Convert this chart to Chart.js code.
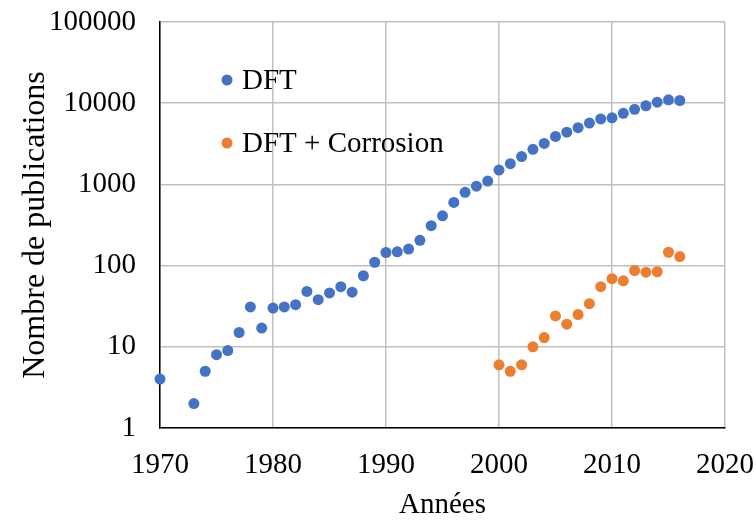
<!DOCTYPE html>
<html>
<head>
<meta charset="utf-8">
<script src="https://cdn.jsdelivr.net/npm/chart.js@4/dist/chart.umd.min.js"></script>
<style>
  body { margin: 0; background: #fff; }
  #wrap { width: 756px; height: 520px; }
</style>
</head>
<body>
<div id="wrap"><canvas id="myChart" width="756" height="520"></canvas></div>
<script>
// years and publication counts
var dftYears = [1970, 1973, 1974, 1975, 1976, 1977, 1978, 1979, 1980, 1981, 1982, 1983, 1984, 1985,
  1986, 1987, 1988, 1989, 1990, 1991, 1992, 1993, 1994, 1995, 1996, 1997, 1998, 1999, 2000,
  2001, 2002, 2003, 2004, 2005, 2006, 2007, 2008, 2009, 2010, 2011, 2012, 2013, 2014, 2015, 2016];
var dftCounts = [4, 2, 5, 8, 9, 15, 31, 17, 30, 31, 33, 48, 38, 46,
  55, 47, 75, 110, 145, 148, 160, 205, 310, 410, 600, 800, 950, 1100, 1500,
  1800, 2200, 2700, 3200, 3900, 4400, 5000, 5700, 6400, 6600, 7500, 8400, 9300, 10300, 11000, 10800];

var corrYears = [2000, 2001, 2002, 2003, 2004, 2005, 2006, 2007, 2008, 2009, 2010, 2011, 2012, 2013, 2014, 2015, 2016];
var corrCounts = [6, 5, 6, 10, 13, 24, 19, 25, 34, 55, 69, 65, 87, 83, 84, 146, 129];

var seriesNames = ['DFT', 'DFT + Corrosion'];
var seriesColors = ['#4472C4', '#ED7D31'];
var yTicks = [1, 10, 100, 1000, 10000, 100000];
var xMin = 1970, xMax = 2020, xStep = 10;

function toPoints(xs, ys) {
  var pts = [];
  for (var i = 0; i < xs.length; i++) pts.push({ x: xs[i], y: ys[i] });
  return pts;
}

var serif = "'Liberation Serif', 'Times New Roman', serif";

// legend drawn inside the plot area, like the original
var innerLegend = {
  id: 'innerLegend',
  afterDatasetsDraw: function(chart) {
    var ctx = chart.ctx;
    var area = chart.chartArea;
    ctx.save();
    ctx.font = '29px ' + serif;
    ctx.textBaseline = 'middle';
    for (var i = 0; i < seriesNames.length; i++) {
      var cx = area.left + 67;
      var cy = area.top + 58 + i * 63;
      ctx.fillStyle = seriesColors[i];
      ctx.beginPath();
      ctx.arc(cx, cy, 5.5, 0, Math.PI * 2);
      ctx.fill();
      ctx.fillStyle = '#000';
      ctx.fillText(seriesNames[i], cx + 15, cy + 1);
    }
    ctx.restore();
  }
};

window.onload = function() {
  var ctx = document.getElementById('myChart').getContext('2d');
  var chart = new Chart(ctx, {
    type: 'scatter',
    data: {
      datasets: [{
        label: seriesNames[0],
        data: toPoints(dftYears, dftCounts),
        backgroundColor: seriesColors[0],
        pointRadius: 5.5,
        pointBorderWidth: 0,
        clip: false
      }, {
        label: seriesNames[1],
        data: toPoints(corrYears, corrCounts),
        backgroundColor: seriesColors[1],
        pointRadius: 5.5,
        pointBorderWidth: 0,
        clip: false
      }]
    },
    options: {
      responsive: false,
      animation: false,
      layout: { padding: { top: 22, right: 31, bottom: 0, left: 0 } },
      plugins: {
        legend: { display: false },
        tooltip: { enabled: false }
      },
      scales: {
        x: {
          type: 'linear',
          min: xMin,
          max: xMax,
          afterFit: function(scale) {
            scale.height = 92;
            scale.paddingLeft = 0;
            scale.paddingRight = 0;
          },
          ticks: {
            stepSize: xStep,
            color: '#000',
            padding: 20,
            maxRotation: 0,
            font: { family: serif, size: 29 },
            callback: function(v) { return String(v); }
          },
          grid: { color: '#bfbfbf', lineWidth: 1.5, drawTicks: false },
          border: { color: '#000', width: 1.5 },
          title: {
            display: true,
            text: 'Années',
            color: '#000',
            font: { family: serif, size: 29 },
            padding: { top: 0, bottom: -3 }
          }
        },
        y: {
          type: 'logarithmic',
          min: yTicks[0],
          max: yTicks[yTicks.length - 1],
          afterFit: function(scale) {
            scale.width = 160;
            scale.paddingTop = 0;
            scale.paddingBottom = 0;
          },
          afterBuildTicks: function(scale) {
            scale.ticks = yTicks.map(function(v) { return { value: v }; });
          },
          ticks: {
            color: '#000',
            padding: 24,
            font: { family: serif, size: 29 },
            callback: function(v) { return String(v); }
          },
          grid: { color: '#bfbfbf', lineWidth: 1.5, drawTicks: false },
          border: { color: '#000', width: 1.5 },
          title: {
            display: true,
            text: 'Nombre de publications',
            color: '#000',
            font: { family: serif, size: 32 },
            padding: { top: 16, bottom: 0 }
          }
        }
      }
    },
    plugins: [innerLegend]
  });
};
</script>
</body>
</html>
